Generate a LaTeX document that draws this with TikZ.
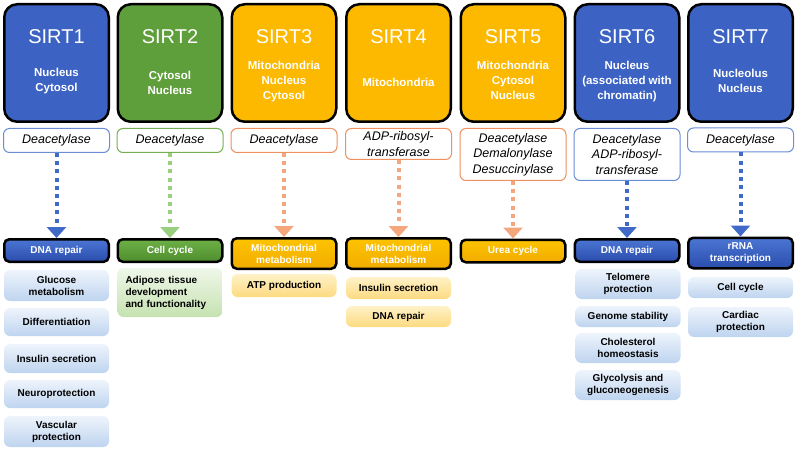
\documentclass[tikz,border=0pt]{standalone}
\usepackage{fontspec}
\setmainfont{Liberation Sans}
\usetikzlibrary{arrows.meta}

\definecolor{sirtblue}{HTML}{3C63C4}
\definecolor{sirtgreen}{HTML}{5E9F3B}
\definecolor{sirtorange}{HTML}{FDB900}
\definecolor{edgeblue}{HTML}{6A8ED6}
\definecolor{edgegreen}{HTML}{74B052}
\definecolor{edgeorange}{HTML}{EE9060}
\definecolor{arrowblue}{HTML}{4169C8}
\definecolor{arrowgreen}{HTML}{98CF80}
\definecolor{arroworange}{HTML}{F4A67C}
\definecolor{procbluetop}{HTML}{4C76D4}
\definecolor{procbluebot}{HTML}{2A4DAC}
\definecolor{procgreentop}{HTML}{6DB046}
\definecolor{procgreenbot}{HTML}{4E8E2E}
\definecolor{procorangetop}{HTML}{FDC300}
\definecolor{procorangebot}{HTML}{F2AC00}
\definecolor{subbluetop}{HTML}{EEF4FC}
\definecolor{subbluebot}{HTML}{BED4EF}
\definecolor{subgreentop}{HTML}{EFF7E9}
\definecolor{subgreenbot}{HTML}{C5E2B0}
\definecolor{subyellowtop}{HTML}{FFF2C8}
\definecolor{subyellowbot}{HTML}{FDDA80}

\tikzset{
	sirtbox/.style = {draw = black, line width = 2.5pt, rounded corners = 13pt,
		minimum width = 104.5pt, minimum height = 117.5pt},
	sirtname/.style = {text = white, font = \fontsize{20}{24}\selectfont},
	sirtplace/.style = {text = white, align = center, font = \fontsize{11.5}{15}\selectfont\bfseries},
	enzbox/.style = {draw, fill = white, line width = 1pt, rounded corners = 6pt,
		minimum width = 106pt, align = center, inner sep = 1pt,
		font = \fontsize{12.5}{15.5}\selectfont\itshape},
	procbox/.style = {draw = black, line width = 2.5pt, rounded corners = 5pt,
		minimum width = 104.5pt, minimum height = 22.5pt, align = center, inner sep = 1pt,
		text = white, font = \fontsize{10}{12}\selectfont\bfseries},
	subbox/.style = {rounded corners = 6pt, minimum width = 105pt, align = center, inner sep = 1pt,
		font = \fontsize{10}{12}\selectfont\bfseries},
	dotarrow/.style = {line width = 4pt, dash pattern = on 4pt off 4.2pt,
		-{Triangle[width = 19pt, length = 11pt]}}
}

\begin{document}
\begin{tikzpicture}[x = 1pt, y = -1pt]

	\useasboundingbox (0, 0) rectangle (797, 449);

	% Sirtuins and their location

	\node [sirtbox, fill = sirtblue] (s1) at (56.5, 63) {};
	\node [sirtbox, fill = sirtgreen] (s2) at (170, 63) {};
	\node [sirtbox, fill = sirtorange] (s3) at (284, 63) {};
	\node [sirtbox, fill = sirtorange] (s4) at (398.5, 63) {};
	\node [sirtbox, fill = sirtorange] (s5) at (513, 63) {};
	\node [sirtbox, fill = sirtblue] (s6) at (627, 63) {};
	\node [sirtbox, fill = sirtblue] (s7) at (740.5, 63) {};

	\node [sirtname] (n1) at (56.5, 37) {SIRT1};
	\node [sirtname] (n2) at (170, 37) {SIRT2};
	\node [sirtname] (n3) at (284, 37) {SIRT3};
	\node [sirtname] (n4) at (398.5, 37) {SIRT4};
	\node [sirtname] (n5) at (513, 37) {SIRT5};
	\node [sirtname] (n6) at (627, 37) {SIRT6};
	\node [sirtname] (n7) at (740.5, 37) {SIRT7};

	\node [sirtplace] (l1) at (56.5, 81.5) {Nucleus\\Cytosol};
	\node [sirtplace] (l2) at (170, 83) {Cytosol\\Nucleus};
	\node [sirtplace] (l3) at (284, 82) {Mitochondria\\Nucleus\\Cytosol};
	\node [sirtplace] (l4) at (398.5, 82) {Mitochondria};
	\node [sirtplace] (l5) at (513, 80.5) {Mitochondria\\Cytosol\\Nucleus};
	\node [sirtplace] (l6) at (627, 81.5) {Nucleus\\(associated with\\chromatin)};
	\node [sirtplace] (l7) at (740.5, 80.5) {Nucleolus\\Nucleus};

	% Enzymatic activity

	\node [enzbox, draw = edgeblue, minimum height = 24pt] (e1) at (56.5, 140.5) {Deacetylase};
	\node [enzbox, draw = edgegreen, minimum height = 24pt] (e2) at (170, 140.5) {Deacetylase};
	\node [enzbox, draw = edgeorange, minimum height = 24pt] (e3) at (284, 140.5) {Deacetylase};
	\node [enzbox, draw = edgeorange, minimum height = 31pt] (e4) at (398.5, 144) {ADP-ribosyl-\\transferase};
	\node [enzbox, draw = edgeorange, minimum height = 52pt] (e5) at (513, 154.5) {Deacetylase\\Demalonylase\\Desuccinylase};
	\node [enzbox, draw = edgeblue, minimum height = 52pt] (e6) at (627, 154.5) {Deacetylase\\ADP-ribosyl-\\transferase};
	\node [enzbox, draw = edgeblue, minimum height = 24pt] (e7) at (740.5, 140) {Deacetylase};

	% Main function

	\node [procbox, top color = procbluetop, bottom color = procbluebot] (p1) at (56.5, 250.5) {DNA repair};
	\node [procbox, top color = procgreentop, bottom color = procgreenbot] (p2) at (170, 250.5) {Cell cycle};
	\node [procbox, top color = procorangetop, bottom color = procorangebot, minimum height = 30.5pt] (p3) at (284, 253.5) {Mitochondrial\\metabolism};
	\node [procbox, top color = procorangetop, bottom color = procorangebot, minimum height = 30.5pt] (p4) at (398.5, 253.5) {Mitochondrial\\metabolism};
	\node [procbox, top color = procorangetop, bottom color = procorangebot] (p5) at (513, 251) {Urea cycle};
	\node [procbox, top color = procbluetop, bottom color = procbluebot] (p6) at (627, 250.5) {DNA repair};
	\node [procbox, top color = procbluetop, bottom color = procbluebot, minimum height = 30.5pt] (p7) at (740.5, 253) {rRNA\\transcription};

	% Dotted arrows

	\draw [dotarrow, arrowblue] (e1) -- (p1);
	\draw [dotarrow, arrowgreen] (e2) -- (p2);
	\draw [dotarrow, arroworange] (e3) -- (p3);
	\draw [dotarrow, arroworange] (e4) -- (p4);
	\draw [dotarrow, arroworange] (e5) -- (p5);
	\draw [dotarrow, arrowblue] (e6) -- (p6);
	\draw [dotarrow, arrowblue] (e7) -- (p7);

	% Other functions

	\node [subbox, top color = subbluetop, bottom color = subbluebot, minimum height = 31pt] (f11) at (56.5, 285.5) {Glucose\\metabolism};
	\node [subbox, top color = subbluetop, bottom color = subbluebot, minimum height = 28pt] (f12) at (56.5, 322) {Differentiation};
	\node [subbox, top color = subbluetop, bottom color = subbluebot, minimum height = 29pt] (f13) at (56.5, 358.5) {Insulin secretion};
	\node [subbox, top color = subbluetop, bottom color = subbluebot, minimum height = 28pt] (f14) at (56.5, 394) {Neuroprotection};
	\node [subbox, top color = subbluetop, bottom color = subbluebot, minimum height = 31pt] (f15) at (56.5, 431.5) {Vascular\\protection};

	\node [subbox, top color = subgreentop, bottom color = subgreenbot, minimum height = 49pt,
		align = left, text width = 89pt] (f21) at (170, 292.5) {Adipose tissue\\development\\and functionality};

	\node [subbox, top color = subyellowtop, bottom color = subyellowbot, minimum height = 23pt] (f31) at (284, 285.5) {ATP production};

	\node [subbox, top color = subyellowtop, bottom color = subyellowbot, minimum height = 22pt] (f41) at (398.5, 288) {Insulin secretion};
	\node [subbox, top color = subyellowtop, bottom color = subyellowbot, minimum height = 21pt] (f42) at (398.5, 316.5) {DNA repair};

	\node [subbox, top color = subbluetop, bottom color = subbluebot, minimum height = 30pt] (f61) at (628, 284) {Telomere\\protection};
	\node [subbox, top color = subbluetop, bottom color = subbluebot, minimum height = 21pt] (f62) at (628, 316.5) {Genome stability};
	\node [subbox, top color = subbluetop, bottom color = subbluebot, minimum height = 30pt] (f63) at (628, 348) {Cholesterol\\homeostasis};
	\node [subbox, top color = subbluetop, bottom color = subbluebot, minimum height = 30pt] (f64) at (628, 385) {Glycolysis and\\gluconeogenesis};

	\node [subbox, top color = subbluetop, bottom color = subbluebot, minimum height = 21pt] (f71) at (740.5, 287.5) {Cell cycle};
	\node [subbox, top color = subbluetop, bottom color = subbluebot, minimum height = 30pt] (f72) at (740.5, 322) {Cardiac\\protection};

\end{tikzpicture}
\end{document}
